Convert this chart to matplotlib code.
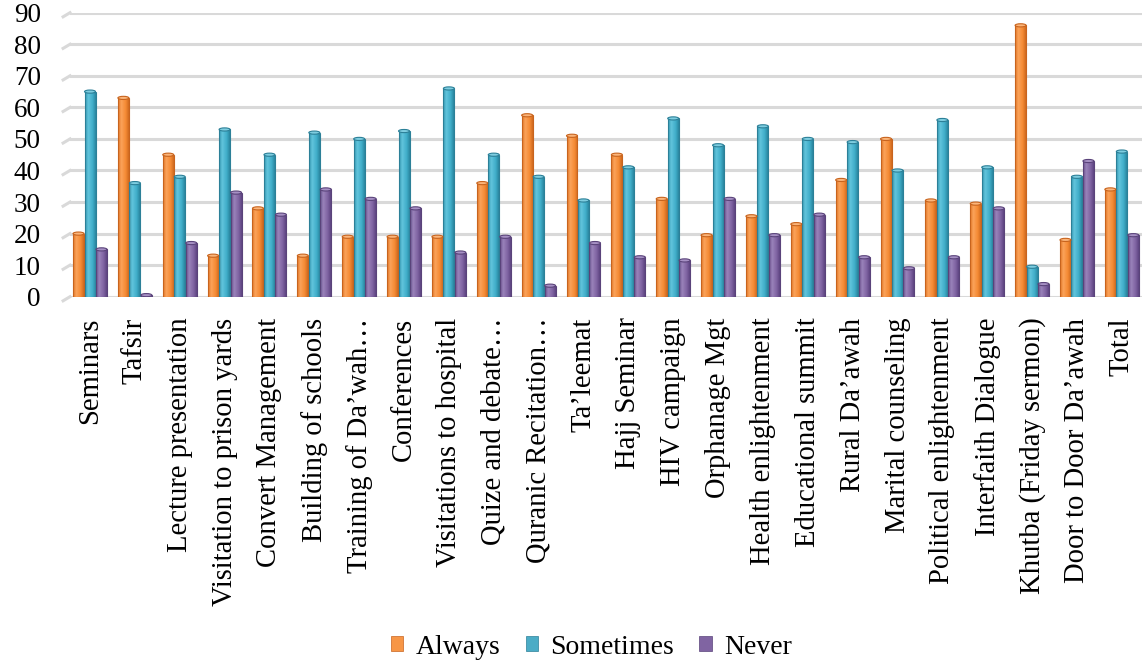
import numpy as np
import matplotlib
matplotlib.use("Agg")
import matplotlib.pyplot as plt
from matplotlib.colors import LinearSegmentedColormap
from matplotlib.patches import Ellipse, Patch

# activity categories and response shares (%)
categories = [
    "Seminars", "Tafsir", "Lecture presentation", "Visitation to prison yards",
    "Convert Management", "Building of schools", "Training of Da\u2019wah\u2026",
    "Conferences", "Visitations to hospital", "Quize and debate\u2026",
    "Quranic Recitation\u2026", "Ta\u2019leemat", "Hajj Seminar", "HIV campaign",
    "Orphanage Mgt", "Health enlightenment", "Educational summit",
    "Rural Da\u2019awah", "Marital counseling", "Political enlightenment",
    "Interfaith Dialogue", "Khutba (Friday sermon)", "Door to Door Da\u2019awah",
    "Total",
]
always = [20, 63, 45, 13, 28, 13, 19, 19, 19, 36, 57.5, 51, 45, 31,
          19.5, 25.5, 23, 37, 50, 30.5, 29.5, 86, 18, 34]
sometimes = [65, 36, 38, 53, 45, 52, 50, 52.5, 66, 45, 38, 30.5, 41, 56.5,
             48, 54, 50, 49, 40, 56, 41, 9.5, 38, 46]
never = [15, 0.5, 17, 33, 26, 34, 31, 28, 14, 19, 3.5, 17, 12.5, 11.5,
         31, 19.5, 26, 12.5, 9, 12.5, 28, 4, 43, 19.5]
series_names = ["Always", "Sometimes", "Never"]
yticks = list(range(0, 100, 10))

plt.rcParams["font.family"] = ["Liberation Serif", "DejaVu Serif"]

fig = plt.figure(figsize=(11.42, 6.62), dpi=100)
ax = fig.add_axes([0.0613, 0.5518, 0.9387, 0.429])

x = np.arange(len(categories))
w = 0.245
offsets = [-0.256, 0.0, 0.256]

styles = [
    # (base, edge, cap, gradient stops)
    ("#F79646", "#C8641E", "#FBB57A", ["#E07425", "#FBA35A", "#F58B35", "#D06A20"]),
    ("#4BACC6", "#2C8098", "#7ECDE0", ["#3497B1", "#62C4DC", "#40AECA", "#2A86A0"]),
    ("#8064A2", "#5A437A", "#A690C4", ["#6A4F8E", "#9A83BA", "#7F63A2", "#5E4582"]),
]

grad = np.linspace(0, 1, 64).reshape(1, -1)
for vals, off, (base, edge, cap, stops) in zip([always, sometimes, never], offsets, styles):
    cmap = LinearSegmentedColormap.from_list("g", list(zip([0, 0.3, 0.7, 1], stops)))
    bars = ax.bar(x + off, vals, width=w, facecolor="none", edgecolor=edge,
                  linewidth=0.8, zorder=3.2)
    for b in bars:
        bx, h = b.get_x(), b.get_height()
        im = ax.imshow(grad, cmap=cmap, extent=(bx, bx + w, 0, h),
                       aspect="auto", zorder=3.1, interpolation="bilinear")
        im.set_clip_path(b)
        ax.add_patch(Ellipse((bx + w / 2, h), w, 1.0, facecolor=cap,
                             edgecolor=edge, linewidth=0.8, zorder=3.3))

ax.set_xlim(-0.446, 23.45)
ax.set_ylim(0, 90)

# gridlines with the short slanted side-wall segment on the left
for v in yticks:
    ax.axhline(v, color="#D9D9D9", linewidth=2.2, zorder=1)
    ax.plot([-0.60, -0.446], [v - 1.3, v], color="#D9D9D9", linewidth=2.2,
            clip_on=False, zorder=1)

for s in ax.spines.values():
    s.set_visible(False)

ax.set_yticks(yticks)
ax.set_yticklabels([str(t) for t in yticks], fontsize=19.5)
ax.set_xticks(x)
ax.set_xticklabels(categories, rotation=90, fontsize=20.6, va="top", ha="center")
ax.tick_params(axis="y", length=0, pad=21)
ax.tick_params(axis="x", length=0, pad=15)

handles = [Patch(facecolor=s[0], edgecolor=s[1], linewidth=0.5) for s in styles]
fig.legend(handles, series_names, loc="lower center", bbox_to_anchor=(0.518, -0.034),
           ncol=3, frameon=False, fontsize=20, handlelength=0.45, handleheight=0.45,
           handletextpad=0.45, columnspacing=0.9)

fig.savefig("out.png", dpi=100)
